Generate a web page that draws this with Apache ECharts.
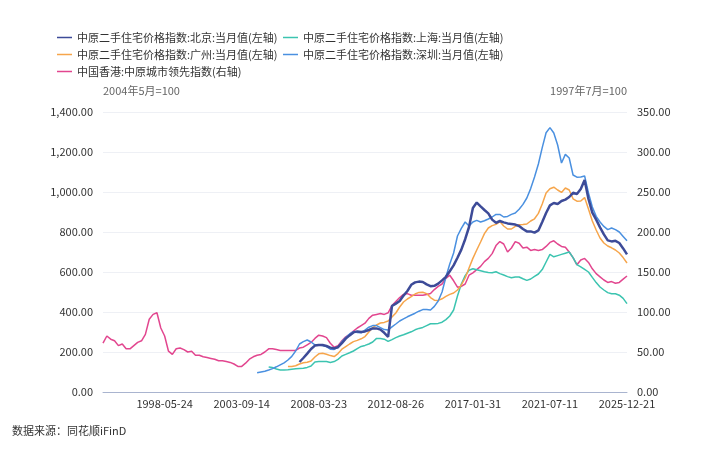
<!DOCTYPE html>
<html>
<head>
<meta charset="utf-8">
<script src="https://cdn.jsdelivr.net/npm/echarts@6/dist/echarts.min.js"></script>
<style>
html,body{margin:0;padding:0;background:#fff;}
#main{width:720px;height:452px;}
</style>
</head>
<body>
<div id="main"></div>
<script>
// ---- tick labels shown on the x axis (category positions 16, 36, ... 136) ----
const tickLabels = ['1998-05-24','2003-09-14','2008-03-23','2012-08-26','2017-01-31','2021-07-11','2025-12-21'];
const firstTickIndex = 16;
const tickEvery = 20;
const categoryCount = 137;

// ---- series names ----
const nameBJ = '中原二手住宅价格指数:北京:当月值(左轴)';
const nameSH = '中原二手住宅价格指数:上海:当月值(左轴)';
const nameGZ = '中原二手住宅价格指数:广州:当月值(左轴)';
const nameSZ = '中原二手住宅价格指数:深圳:当月值(左轴)';
const nameHK = '中国香港:中原城市领先指数(右轴)';

// ---- values (first value at the given start index) ----
const hkStart = 0;
const hongkong = [61,70,66,64,58,60,54,54,58,62,64,72,91,97,99,80,70,51,47,54,
  55,53,50,51,46,46,44,43,42,41,39,39,38,37,35,32,32,36,41,44,
  46,47,50,54,54,53,52,52,52,52,52,55,56,59,62,67,71,70,68,61,
  56,58,64,69,72,76,80,83,86,92,96,97,98,97,99,108,113,118,122,123,
  121,121,121,121,122,123,128,132,135,142,146,139,131,132,135,146,149,153,157,163,
  167,173,183,188,185,175,180,188,186,180,181,177,178,177,178,182,187,189,185,182,
  181,175,168,159,165,167,162,154,148,144,140,137,138,136,137,141,145];

const szStart = 40;
const shenzhen = [96,100,104,110,117,126,136,146,160,178,205,240,252,260,250,236,235,232,227,214,
  213,225,252,272,290,302,298,296,310,324,332,332,322,312,310,326,340,355,366,376,
  385,394,404,412,412,410,428,455,500,575,640,695,780,818,850,830,850,858,850,856,
  865,875,888,888,875,878,888,895,914,938,970,1017,1075,1140,1222,1296,1322,1295,1235,1145,
  1188,1170,1085,1074,1075,1080,995,925,878,850,828,812,820,812,800,778,756];

const shStart = 43;
const shanghai = [125,122,115,110,110,111,114,116,118,119,123,130,150,152,152,152,148,152,163,180,
  188,196,205,217,228,233,240,250,268,268,264,253,262,272,280,286,294,301,311,318,
  323,332,341,341,343,349,362,380,410,480,540,582,609,616,611,606,601,598,596,601,
  592,585,577,571,575,575,566,558,565,578,590,612,650,688,676,682,688,694,700,672,
  637,626,613,600,573,547,525,510,497,491,491,484,468,442];

const gzStart = 48;
const guangzhou = [127,128,131,140,146,149,155,175,191,194,189,182,177,192,214,227,240,252,258,266,
  277,300,322,335,345,348,355,375,395,425,450,465,477,490,498,499,492,472,459,458,
  466,478,488,495,510,535,570,620,668,710,750,792,820,832,838,852,830,815,815,828,
  836,837,840,855,866,893,940,995,1016,1024,1010,998,1020,1010,966,954,955,972,915,855,
  810,770,745,730,721,710,695,672,645];

const bjStart = 51;
const beijing = [150,170,192,215,232,235,235,230,222,218,224,244,267,283,298,303,300,303,310,318,
  318,312,296,276,430,442,455,482,505,536,548,552,550,538,529,531,542,558,576,604,
  633,671,712,764,825,920,947,928,910,893,862,846,855,848,843,840,837,830,815,803,
  803,797,808,850,895,933,945,940,955,962,975,996,990,1015,1060,965,897,862,823,788,
  758,753,756,745,718,688];

// ---- build category names: tick dates at tick positions, dates in between spread evenly ----
function pad(n){return n<10?'0'+n:''+n;}
function fmt(d){return d.getUTCFullYear()+'-'+pad(d.getUTCMonth()+1)+'-'+pad(d.getUTCDate());}
const categories = [];
for (let i = 0; i < categoryCount; i++) {
  const rel = (i - firstTickIndex) / tickEvery;
  if (Number.isInteger(rel) && rel >= 0 && rel < tickLabels.length) { categories.push(tickLabels[rel]); continue; }
  let k = Math.floor(rel); if (k < 0) k = 0; if (k > tickLabels.length - 2) k = tickLabels.length - 2;
  const t0 = Date.parse(tickLabels[k] + 'T00:00:00Z'), t1 = Date.parse(tickLabels[k+1] + 'T00:00:00Z');
  categories.push(fmt(new Date(t0 + (rel - k) * (t1 - t0))));
}
function padFront(start, arr){ return new Array(start).fill(null).concat(arr); }

const font = "'Noto Sans CJK SC', 'Noto Sans', sans-serif";
const chart = echarts.init(document.getElementById('main'), null, {renderer:'canvas'});
function fmtNum(v){ return Number(v).toLocaleString('en-US',{minimumFractionDigits:2, maximumFractionDigits:2}); }

const legendBase = {icon:'rect', itemWidth:15, itemHeight:1.5, itemGap:0, padding:0,
  textStyle:{fontSize:11, color:'#333', fontFamily:font}};
const option = {
  animation:false,
  backgroundColor:'#fff',
  textStyle:{fontFamily:font},
  color:['#3d4b98','#3cc4b0','#f6a54b','#4a90e0','#e2468f'],
  legend:[
    Object.assign({data:[nameBJ], left:57, top:32}, legendBase),
    Object.assign({data:[nameSH], left:283, top:32}, legendBase),
    Object.assign({data:[nameGZ], left:57, top:49}, legendBase),
    Object.assign({data:[nameSZ], left:283, top:49}, legendBase),
    Object.assign({data:[nameHK], left:57, top:66}, legendBase)
  ],
  grid:{left:103, right:93, top:112, bottom:60, containLabel:false},
  xAxis:{
    type:'category', data:categories, boundaryGap:false,
    axisLine:{lineStyle:{color:'#a9b4cf', width:1}},
    axisTick:{show:false},
    axisLabel:{
      color:'#333', fontSize:11, margin:6,
      interval:function(idx){ const r = idx - firstTickIndex; return r >= 0 && r % tickEvery === 0; }
    },
    splitLine:{show:false}
  },
  yAxis:[
    {type:'value', min:0, max:1400, interval:200, position:'left',
     name:'2004年5月=100', nameLocation:'end', nameGap:21,
     nameTextStyle:{align:'left', verticalAlign:'middle', color:'#666', fontSize:11},
     axisLine:{show:false}, axisTick:{show:false},
     axisLabel:{color:'#333', fontSize:11, margin:10, formatter:fmtNum},
     splitLine:{lineStyle:{color:'#eef0f5', width:1}}},
    {type:'value', min:0, max:350, interval:50, position:'right',
     name:'1997年7月=100', nameLocation:'end', nameGap:21,
     nameTextStyle:{align:'right', verticalAlign:'middle', color:'#666', fontSize:11},
     axisLine:{show:false}, axisTick:{show:false},
     axisLabel:{color:'#333', fontSize:11, margin:10, formatter:fmtNum},
     splitLine:{show:false}}
  ],
  graphic:[
    {type:'text', left:12, top:425, style:{text:'数据来源：同花顺iFinD', fill:'#333', fontSize:11, fontFamily:font}}
  ],
  series:[
    {name:nameBJ, type:'line', yAxisIndex:0, data:padFront(bjStart, beijing), showSymbol:false, symbol:'none', lineStyle:{width:2.5}, z:6},
    {name:nameSH, type:'line', yAxisIndex:0, data:padFront(shStart, shanghai), showSymbol:false, symbol:'none', lineStyle:{width:1.5}, z:3},
    {name:nameGZ, type:'line', yAxisIndex:0, data:padFront(gzStart, guangzhou), showSymbol:false, symbol:'none', lineStyle:{width:1.5}, z:4},
    {name:nameSZ, type:'line', yAxisIndex:0, data:padFront(szStart, shenzhen), showSymbol:false, symbol:'none', lineStyle:{width:1.5}, z:5},
    {name:nameHK, type:'line', yAxisIndex:1, data:padFront(hkStart, hongkong), showSymbol:false, symbol:'none', lineStyle:{width:1.5}, z:2}
  ]
};
chart.setOption(option);
</script>
</body>
</html>
